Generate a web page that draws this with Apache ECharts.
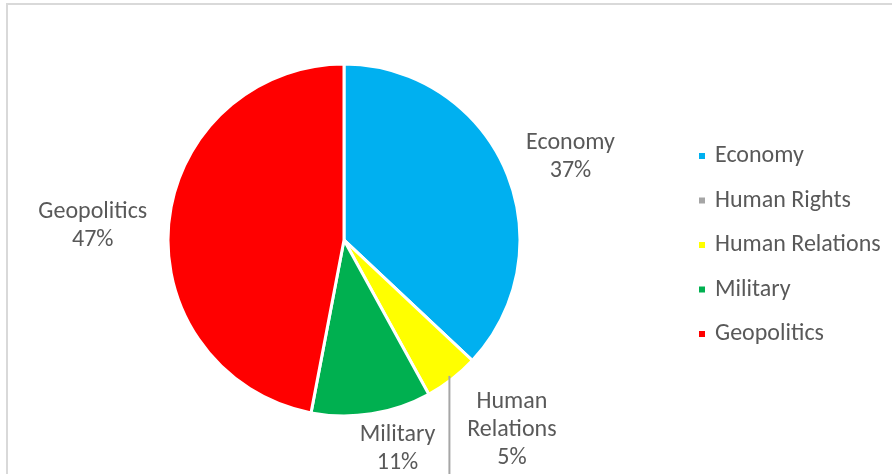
<!DOCTYPE html>
<html>
<head>
<meta charset="utf-8">
<script src="https://cdn.jsdelivr.net/npm/echarts@6/dist/echarts.min.js"></script>
<style>
  html, body { margin: 0; padding: 0; background: #ffffff; }
  #frame {
    position: absolute; left: 6px; top: 3px; width: 892px; height: 474px;
    border-top: 2px solid #d9d9d9; border-left: 2px solid #d9d9d9;
  }
  #chart { position: absolute; left: 0; top: 0; width: 892px; height: 474px; }
</style>
</head>
<body>
<div id="frame"></div>
<div id="chart"></div>
<script>
// Topic shares (percent)
const categories = ['Economy', 'Human Rights', 'Human Relations', 'Military', 'Geopolitics'];
const shares = [37, 0, 5, 11, 47];
const sliceColors = ['#00b0f0', '#a5a5a5', '#ffff00', '#00b050', '#ff0000'];
const labelNames = ['Economy', 'Human Rights', 'Human\nRelations', 'Military', 'Geopolitics'];

// Label placement: nudge (px) from the rim point at each slice's mid-angle
const labelNudge = [[65, -13], [0, 0], [60, 51], [26, 35], [-76, 3]];

const CX = 344, CY = 240, R = 176;
const FONT = 'Carlito, Calibri, Lato, sans-serif';
const TEXT = '#595959';
const FONT_SIZE = 24;

// Point on the circle at the middle of slice i (clockwise from 12 o'clock)
function rimPoint(i, radius) {
  const total = shares.reduce((a, b) => a + b, 0);
  let before = 0;
  for (let k = 0; k < i; k++) before += shares[k];
  const a = (before + shares[i] / 2) / total * 2 * Math.PI;
  return [CX + radius * Math.sin(a), CY - radius * Math.cos(a)];
}

const chart = echarts.init(document.getElementById('chart'), null, { renderer: 'canvas' });

// Leader line of the Human Rights label, which sits below the frame
const leaderIndex = 2;
const leaderStart = rimPoint(leaderIndex, R - 4);

chart.setOption({
  animation: false,
  color: sliceColors,
  legend: {
    orient: 'vertical',
    left: 692,
    top: 139,
    itemWidth: 8,
    itemHeight: 8,
    itemGap: 20.5,
    icon: 'rect',
    selectedMode: false,
    data: categories,
    textStyle: { fontFamily: FONT, fontSize: FONT_SIZE, color: TEXT, padding: [0, 0, 0, 4] }
  },
  graphic: [{
    type: 'polyline',
    silent: true,
    z: 100,
    shape: { points: [leaderStart, [leaderStart[0], 480]] },
    style: { stroke: '#a6a6a6', lineWidth: 2, fill: null }
  }],
  series: [{
    type: 'pie',
    center: [CX, CY],
    radius: R,
    startAngle: 90,
    clockwise: true,
    avoidLabelOverlap: false,
    emphasis: { disabled: true },
    itemStyle: { borderColor: '#ffffff', borderWidth: 3 },
    label: {
      show: true,
      position: 'outside',
      fontFamily: FONT,
      fontSize: FONT_SIZE,
      lineHeight: 28,
      color: TEXT,
      align: 'center',
      formatter: function (p) {
        return labelNames[p.dataIndex] + '\n' + Math.round(p.percent) + '%';
      }
    },
    labelLine: { show: false },
    labelLayout: function (p) {
      const i = p.dataIndex;
      const pt = rimPoint(i, R);
      return {
        x: pt[0] + labelNudge[i][0],
        y: pt[1] + labelNudge[i][1],
        align: 'center',
        verticalAlign: 'middle'
      };
    },
    data: categories.map(function (name, i) {
      const item = { name: name, value: shares[i] };
      if (shares[i] === 0) item.label = { show: false };
      return item;
    })
  }]
});
</script>
</body>
</html>
